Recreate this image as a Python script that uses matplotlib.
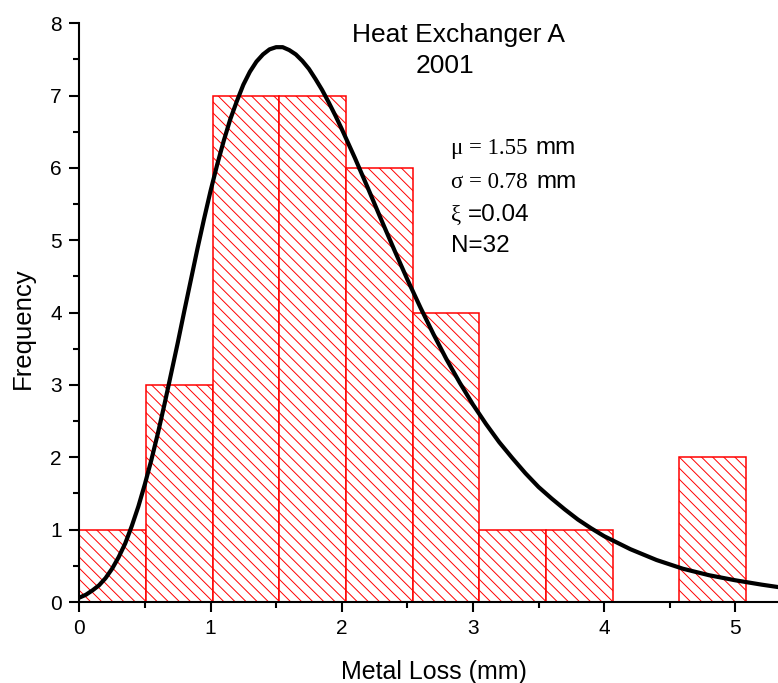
import numpy as np
import matplotlib
matplotlib.use("Agg")
import matplotlib.pyplot as plt

plt.rcParams['font.family'] = ['Liberation Sans', 'DejaVu Sans']
plt.rcParams['hatch.color'] = 'red'
plt.rcParams['hatch.linewidth'] = 0.7

# histogram of metal loss, bin width 0.508 mm (0.02 in)
bin_width = 0.508
counts = [1, 3, 7, 7, 6, 4, 1, 1, 0, 2]

# fitted GEV curve
curve_x = [0.0, 0.05, 0.1, 0.15, 0.2, 0.25, 0.3, 0.35, 0.4, 0.45,
           0.5, 0.55, 0.6, 0.65, 0.7, 0.75, 0.8, 0.85, 0.9, 0.95,
           1.0, 1.05, 1.1, 1.15, 1.2, 1.25, 1.3, 1.35, 1.4, 1.45,
           1.5, 1.55, 1.6, 1.65, 1.7, 1.75, 1.8, 1.85, 1.9, 1.95,
           2.0, 2.1, 2.2, 2.3, 2.4, 2.5, 2.6, 2.7, 2.8, 2.9,
           3.0, 3.1, 3.2, 3.3, 3.4, 3.5, 3.6, 3.7, 3.8, 3.9,
           4.0, 4.2, 4.4, 4.6, 4.8, 5.0, 5.2, 5.35]
curve_y = [0.06, 0.10, 0.16, 0.23, 0.33, 0.46, 0.62, 0.81, 1.05, 1.32,
           1.63, 1.97, 2.34, 2.74, 3.16, 3.58, 4.02, 4.45, 4.88, 5.29,
           5.68, 6.04, 6.37, 6.67, 6.92, 7.15, 7.33, 7.47, 7.57, 7.64,
           7.67, 7.67, 7.63, 7.57, 7.48, 7.37, 7.23, 7.08, 6.91, 6.73,
           6.54, 6.14, 5.72, 5.29, 4.87, 4.46, 4.07, 3.70, 3.35, 3.03,
           2.73, 2.46, 2.21, 1.99, 1.78, 1.59, 1.43, 1.28, 1.14, 1.02,
           0.91, 0.73, 0.58, 0.46, 0.37, 0.30, 0.24, 0.20]

W, H = 778, 683
fig = plt.figure(figsize=(W / 100, H / 100), dpi=100)
ax = fig.add_axes([79.3 / W, 1 - 602 / H, (W - 79.3) / W, (602 - 23.3) / H])

lefts = bin_width * np.arange(len(counts))
ax.bar(lefts, counts, width=bin_width, align='edge', color='white',
       edgecolor='red', linewidth=1.1, hatch='\\\\\\', zorder=1)
ax.plot(curve_x, curve_y, color='black', linewidth=3, zorder=3,
        solid_capstyle='round', solid_joinstyle='round')

ax.set_xlim(0, 5.325)
ax.set_ylim(0, 8)
ax.set_xticks([0, 1, 2, 3, 4, 5])
ax.set_xticks(np.arange(0.5, 5.3, 1.0), minor=True)
ax.set_yticks(range(9))
ax.set_yticks(np.arange(0.5, 8, 1.0), minor=True)
for side in ['top', 'right']:
    ax.spines[side].set_visible(False)
for side in ['left', 'bottom']:
    ax.spines[side].set_linewidth(1.5)
    ax.spines[side].set_zorder(4)
ax.tick_params(which='major', direction='out', length=7.5, width=1.5,
               labelsize=15, pad=5)
ax.tick_params(which='minor', direction='out', length=4, width=1.5)

fig.text(433.7 / W, 1 - 679 / H, 'Metal Loss (mm)', fontsize=18,
         ha='center', va='baseline')
fig.text(23 / W, 1 - 328 / H, 'Frequency', fontsize=18.5, rotation=90,
         ha='center', va='center')

fig.text(459 / W, 1 - 41.7 / H, 'Heat Exchanger A', fontsize=19,
         ha='center', va='baseline')
fig.text(444.5 / W, 1 - 72.7 / H, '2001', fontsize=19,
         ha='center', va='baseline')

# fit parameters: greek letters and values in serif, units in sans
serif = ['Liberation Serif', 'DejaVu Serif']
x0 = 450.7 / W
fig.text(x0, 1 - 154 / H, 'μ = 1.55', family=serif, fontsize=16.5, va='baseline')
fig.text(535 / W, 1 - 154 / H, 'mm', fontsize=17.5, va='baseline')
fig.text(x0, 1 - 188.3 / H, 'σ = 0.78', family=serif, fontsize=16.5, va='baseline')
fig.text(536 / W, 1 - 188.3 / H, 'mm', fontsize=17.5, va='baseline')
fig.text(x0, 1 - 221 / H, 'ξ', family=serif, fontsize=16.5, va='baseline')
fig.text(468.3 / W, 1 - 221 / H, '=0.04', fontsize=17.5, va='baseline')
fig.text(x0, 1 - 252.3 / H, 'N=32', fontsize=17.5, va='baseline')

fig.savefig('out.png', dpi=100)
